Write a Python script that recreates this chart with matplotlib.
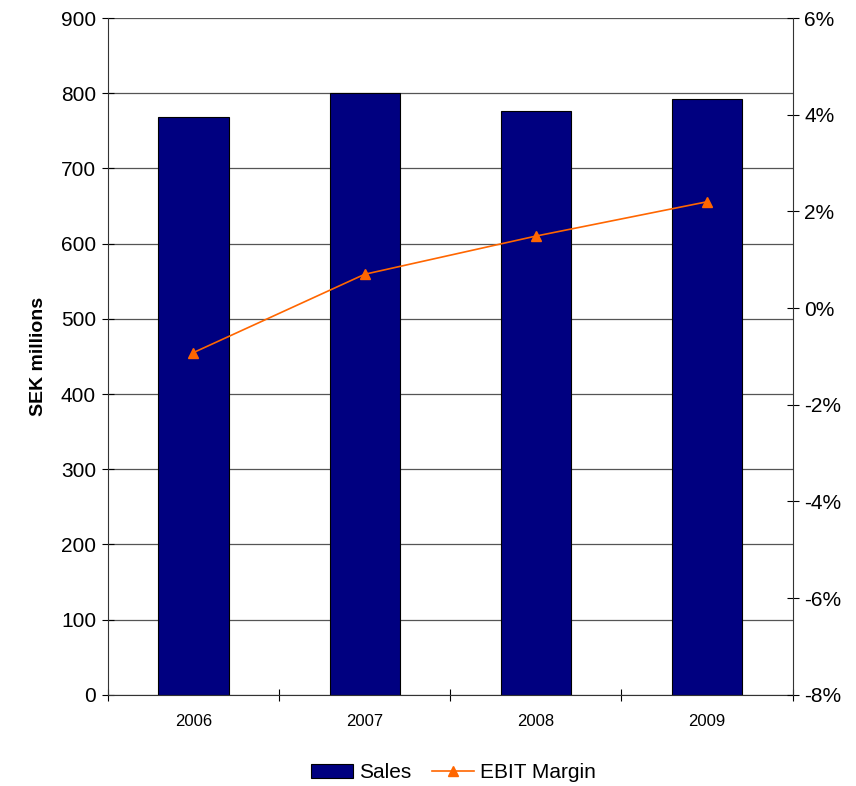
import numpy as np
import matplotlib.pyplot as plt
from matplotlib.ticker import FuncFormatter

plt.rcParams['font.family'] = ['Liberation Sans', 'DejaVu Sans']

years = ["2006", "2007", "2008", "2009"]
sales = [768, 800, 777, 792]            # SEK millions
ebit_margin = [-0.92, 0.70, 1.49, 2.20]  # percent

fig = plt.figure(figsize=(8.56, 7.86), dpi=100)
ax = fig.add_axes([0.126, 0.116, 0.8, 0.861])
x = np.arange(len(years))

ax.bar(x, sales, width=0.41, color="#000080", edgecolor="black", linewidth=0.8,
       label="Sales", zorder=2)
ax.set_xlim(-0.5, len(years) - 0.5)
ax.set_ylim(0, 900)
ax.set_yticks(np.arange(0, 901, 100))
ax.yaxis.grid(True, color="#555555", linewidth=0.9, zorder=0)
ax.set_axisbelow(True)
ax.set_ylabel("SEK millions", fontsize=14, fontweight="bold", labelpad=10)

ax.set_xticks(x)
ax.set_xticklabels(years, fontsize=12)
ax.tick_params(axis="x", which="major", length=0, pad=14)
ax.set_xticks(np.arange(-0.5, len(years), 1.0), minor=True)
ax.tick_params(axis="x", which="minor", direction="inout", length=9, width=0.8)
ax.tick_params(axis="y", direction="inout", length=9, width=0.8, labelsize=15, pad=4)

ax.spines["top"].set_visible(False)
ax.spines["right"].set_visible(False)
for s in ("left", "bottom"):
    ax.spines[s].set_color("#333333")

ax2 = ax.twinx()
ax2.plot(x, ebit_margin, color="#FF6600", linewidth=1.2, marker="^",
         markersize=7, label="EBIT Margin", zorder=3)
ax2.set_ylim(-8, 6)
ax2.set_yticks(np.arange(-8, 7, 2))
ax2.yaxis.set_major_formatter(FuncFormatter(lambda v, p: f"{v:.0f}%"))
ax2.tick_params(axis="y", direction="inout", length=9, width=0.8, labelsize=15, pad=4)
ax2.spines["top"].set_visible(False)
ax2.spines["left"].set_visible(False)
ax2.spines["bottom"].set_visible(False)
ax2.spines["right"].set_color("#333333")

h1, l1 = ax.get_legend_handles_labels()
h2, l2 = ax2.get_legend_handles_labels()
fig.legend(h1 + h2, l1 + l2, loc="center", bbox_to_anchor=(0.53, 0.017),
           ncol=2, frameon=False, fontsize=15, handlelength=2.0,
           handletextpad=0.3, columnspacing=1.0)

fig.savefig("out.png", dpi=100)
